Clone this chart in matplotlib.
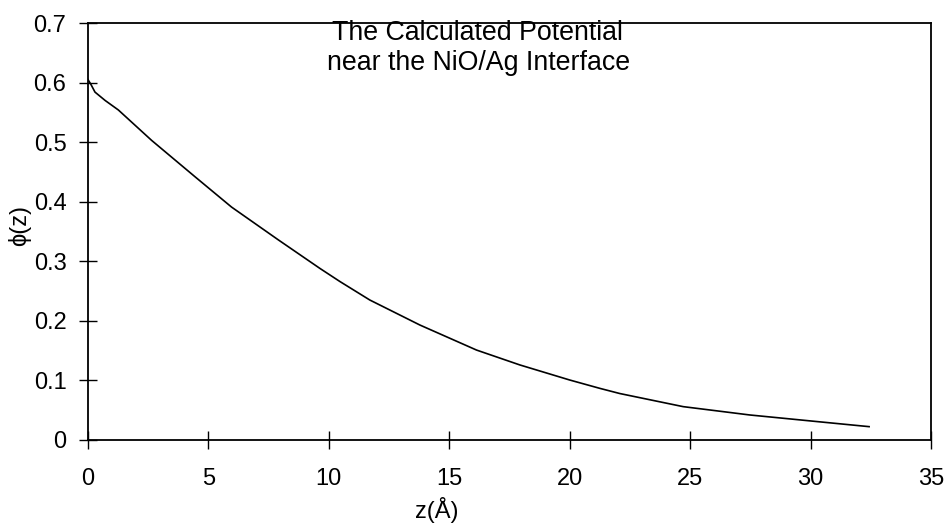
import matplotlib
matplotlib.use("Agg")
import matplotlib.pyplot as plt

plt.rcParams['font.family'] = ['Liberation Sans', 'DejaVu Sans']

z = [0.0, 0.12, 0.29, 0.71, 1.26, 2.64, 4.44, 5.96, 7.9, 9.63, 10.46, 11.7, 13.78,
     16.13, 17.93, 20.0, 21.25, 22.08, 24.71, 27.48, 30.25, 32.43]
phi = [0.605, 0.597, 0.584, 0.570, 0.554, 0.503, 0.442, 0.391, 0.336, 0.288, 0.266,
       0.235, 0.193, 0.151, 0.126, 0.1007, 0.0867, 0.078, 0.056, 0.042, 0.031, 0.0224]

xticks = [0, 5, 10, 15, 20, 25, 30, 35]
yticks = [0, 0.1, 0.2, 0.3, 0.4, 0.5, 0.6, 0.7]
ytick_labels = ['0', '0.1', '0.2', '0.3', '0.4', '0.5', '0.6', '0.7']

fig = plt.figure(figsize=(9.45, 5.24), dpi=100)
ax = fig.add_axes([88/945, 1-440/524, (931-88)/945, (440-23)/524])

ax.plot(z, phi, color='black', lw=1.2)
ax.set_xlim(0, 35)
ax.set_ylim(0, 0.7)
ax.set_xticks(xticks)
ax.set_xticklabels([str(t) for t in xticks])
ax.set_yticks(yticks)
ax.set_yticklabels(ytick_labels)
ax.tick_params(direction='inout', length=13, width=1.0, labelsize=17, colors='black')
ax.tick_params(axis='x', pad=14)
ax.tick_params(axis='y', pad=9)
for s in ax.spines.values():
    s.set_linewidth(1.3)

fig.text(477/945, 1-33/524, 'The Calculated Potential', fontsize=19.3,
         ha='center', va='center')
fig.text(479/945, 1-63/524, 'near the NiO/Ag Interface', fontsize=19.3,
         ha='center', va='center')
fig.text(437/945, 1-510/524, 'z(Å)', fontsize=17, ha='center', va='center')
fig.text(20/945, 1-225/524, 'ϕ(z)', fontsize=17, ha='center', va='center', rotation=90)

fig.savefig('out.png', dpi=100)
